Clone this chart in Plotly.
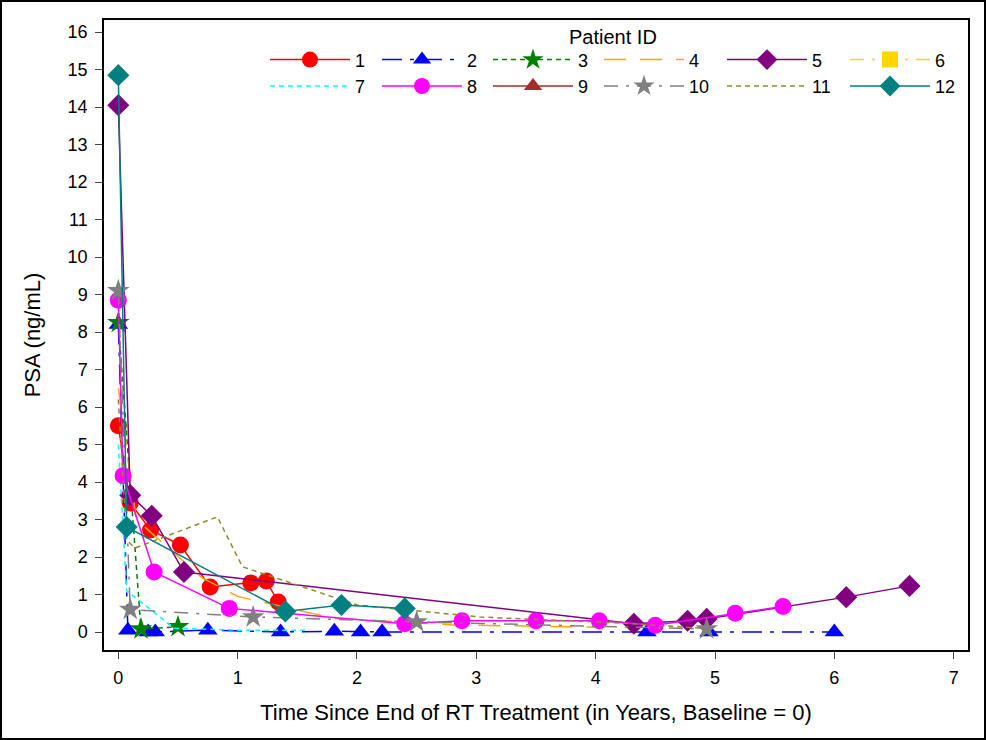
import plotly.graph_objects as go

# PSA-Werte je Patient
ids = ["1", "2", "3", "4", "5", "6", "7", "8", "9", "10", "11", "12"]

x1 = [0, 0.10, 0.27, 0.52, 0.77, 1.11, 1.24, 1.34]
y1 = [5.5, 3.44, 2.72, 2.32, 1.2, 1.31, 1.36, 0.8]

x2 = [0, 0.08, 0.25, 0.31, 0.75, 1.36, 1.81, 2.03, 2.21, 4.43, 4.95, 6.0]
y2 = [8.2, 0.05, 0.0, 0.0, 0.05, 0.0, 0.02, 0.0, 0.0, 0.0, 0.0, 0.0]

x3 = [0, 0.19, 0.5]
y3 = [8.25, 0.08, 0.14]

x4 = [0, 0.15, 0.7, 1.0, 1.8, 2.8, 4.0]
y4 = [6.5, 3.0, 1.45, 0.95, 0.37, 0.19, 0.13]

x5 = [0, 0.1, 0.28, 0.55, 4.32, 4.77, 4.93, 6.1, 6.63]
y5 = [14.05, 3.65, 3.1, 1.6, 0.22, 0.3, 0.35, 0.93, 1.23]

x6 = [None]
y6 = [None]

x7 = [0, 0.07, 0.47, 1.0, 1.6]
y7 = [5.0, 1.1, 0.1, 0.05, 0.05]

x8 = [0, 0.04, 0.3, 0.93, 2.4, 2.88, 3.5, 4.03, 4.5, 5.17, 5.57]
y8 = [8.85, 4.17, 1.6, 0.63, 0.22, 0.3, 0.3, 0.3, 0.18, 0.5, 0.68]

x9 = [None]
y9 = [None]

x10 = [0, 0.1, 1.13, 2.5, 4.93]
y10 = [9.1, 0.6, 0.4, 0.27, 0.08]

x11 = [0, 0.07, 0.14, 0.83, 1.04, 2.0, 3.03, 4.2, 4.9]
y11 = [6.2, 2.45, 2.24, 3.07, 1.74, 0.72, 0.4, 0.24, 0.1]

x12 = [0, 0.07, 1.4, 1.87, 2.4]
y12 = [14.85, 2.8, 0.55, 0.72, 0.63]

xs = [x1, x2, x3, x4, x5, x6, x7, x8, x9, x10, x11, x12]
ys = [y1, y2, y3, y4, y5, y6, y7, y8, y9, y10, y11, y12]

farben = ["#FF0000", "#0000FF", "#008000", "#FFA500", "#800080", "#FFD700",
          "#00FFFF", "#FF00FF", "#A52A2A", "#808080", "#8C8C2E", "#008080"]
striche = ["solid", "20px,8px,4px,8px", "5px,4px", "22px,14px", "solid", "14px,8px,3px,8px",
           "5px,4px", "solid", "solid", "14px,8px,3px,8px", "5px,4px", "solid"]
symbole = ["circle", "triangle-up", "star", None, "diamond", "square",
           None, "circle", "triangle-up", "star", None, "diamond"]

# Legendenspalten (Startpunkt der Linie in Pixel)
spalten_px = [271, 383, 494, 605, 728, 851]

fig = go.Figure()
for i in range(12):
    if symbole[i] is None:
        modus = "lines"
        marker = None
    else:
        modus = "lines+markers"
        marker = dict(symbol=symbole[i], size=17, color=farben[i], line=dict(width=0))
    k = i % 6 + 1
    fig.add_trace(go.Scatter(
        x=xs[i], y=ys[i], name=ids[i], mode=modus,
        line=dict(color=farben[i], width=1.5, dash=striche[i]),
        marker=marker, showlegend=True,
        legend="legend" if k == 1 else "legend%d" % k,
    ))

legenden = {}
for k, px in enumerate(spalten_px, start=1):
    legenden["legend" if k == 1 else "legend%d" % k] = dict(
        orientation="v", x=(px - 6 - 104) / 864, y=0.966, xanchor="left", yanchor="top",
        itemwidth=80, bgcolor="rgba(0,0,0,0)", font=dict(size=18),
        tracegroupgap=0,
    )

# Rahmen um das ganze Bild
fig.add_shape(type="rect", xref="paper", yref="paper",
              x0=-103 / 864, x1=881 / 864, y0=-89 / 630, y1=1 + 19 / 630,
              line=dict(color="black", width=2))

fig.add_annotation(text="Patient ID", xref="paper", yref="paper",
                   x=(613 - 104) / 864, y=1 - (37 - 20) / 630,
                   xanchor="center", yanchor="middle",
                   showarrow=False, font=dict(size=20))

fig.update_layout(
    width=986, height=740,
    margin=dict(l=104, r=18, t=20, b=90),
    paper_bgcolor="white", plot_bgcolor="white",
    font=dict(family="Liberation Sans, Arial, sans-serif", size=18, color="black"),
    xaxis=dict(
        range=[-0.12, 7.12], tickvals=list(range(8)), ticks="outside", ticklen=7,
        ticklabelstandoff=4,
        showline=True, linecolor="black", linewidth=1.5, mirror=True,
        showgrid=False, zeroline=False, automargin=False,
        title=dict(text="Time Since End of RT Treatment (in Years, Baseline = 0)",
                   font=dict(size=22), standoff=17),
    ),
    yaxis=dict(
        range=[-0.48, 16.32], tickvals=list(range(17)), ticks="outside", ticklen=7,
        ticklabelstandoff=4,
        showline=True, linecolor="black", linewidth=1.5, mirror=True,
        showgrid=False, zeroline=False, automargin=False,
        title=dict(text="PSA (ng/mL)", font=dict(size=22), standoff=21),
    ),
    **legenden,
)

fig.write_html("out.html", config={"displayModeBar": False},
               post_script="document.body.style.margin='0';")
